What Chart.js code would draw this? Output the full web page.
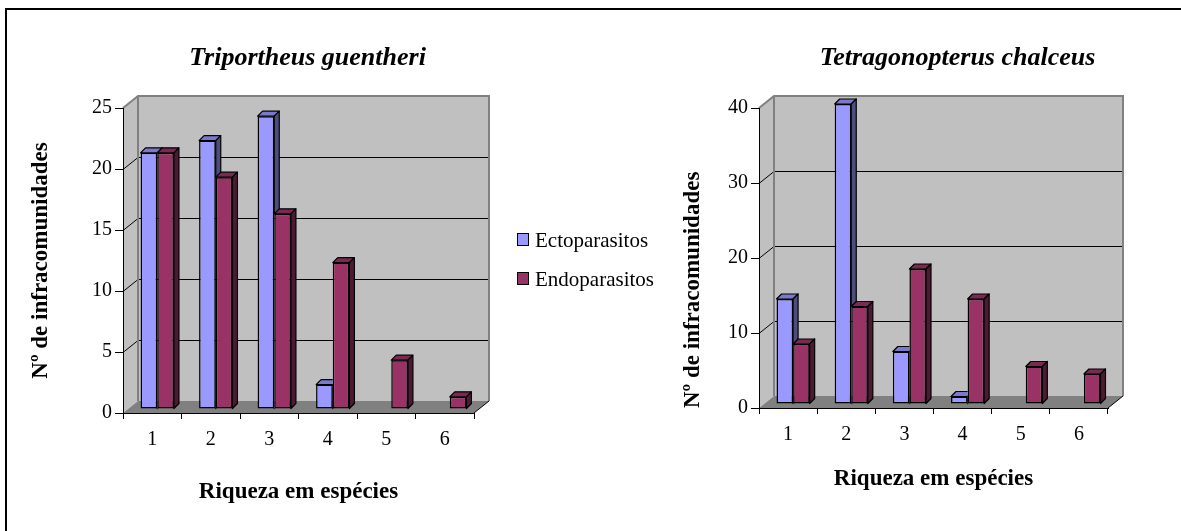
<!DOCTYPE html>
<html>
<head>
<meta charset="utf-8">
<script src="https://cdn.jsdelivr.net/npm/chart.js@4.4.1/dist/chart.umd.min.js"></script>
<style>
html,body{margin:0;padding:0;background:#fff;width:1181px;height:531px;overflow:hidden;position:relative;}
canvas{position:absolute;left:0;top:0;}
#frame{position:absolute;left:5px;top:8px;width:1300px;height:600px;border-left:2px solid #000;border-top:2px solid #000;}
.leg{position:absolute;font-family:"Liberation Serif","Times New Roman",serif;font-size:21px;line-height:24px;color:#000;white-space:nowrap;}
.sw{position:absolute;width:12px;height:13px;box-sizing:border-box;border:1.5px solid #000;}
</style>
</head>
<body>
<div id="frame"></div>
<canvas id="c1" width="1181" height="531"></canvas>
<canvas id="c2" width="1400" height="531"></canvas>
<div id="legend"></div>
<script>
// ---- data ----
const categories = ['1', '2', '3', '4', '5', '6'];
const seriesNames = ['Ectoparasitos', 'Endoparasitos'];
const trioEcto = [21, 22, 24, 2, 0, 0];
const trioEndo = [21, 19, 16, 12, 4, 1];
const tetraEcto = [14, 40, 7, 1, 0, 0];
const tetraEndo = [8, 13, 18, 14, 5, 4];
const trioTicks = [0, 5, 10, 15, 20, 25];
const tetraTicks = [0, 10, 20, 30, 40];
const chartTitles = ['Triportheus guentheri', 'Tetragonopterus chalceus'];
const xTitle = 'Riqueza em espécies';
const yTitle = 'Nº de infracomunidades';

// ---- styles ----
const FONT = '"Liberation Serif","Times New Roman",serif';
const frontColors = ['#9999FF', '#993366'];
const topColors = ['#7A7ACC', '#7A2952'];
const sideColors = ['#4D4D80', '#4D1A33'];

const wall3d = {
  id: 'wall3d',
  beforeDraw(chart, args, o) {
    const ctx = chart.ctx, a = chart.chartArea, ys = chart.scales.y;
    const dx = o.dx, dy = o.dy;
    const L = a.left, R = a.right, T = a.top, B = a.bottom;
    ctx.save();
    ctx.fillStyle = '#C0C0C0';
    ctx.fillRect(L + dx, T + dy, R - L, B - T);
    ctx.beginPath();
    ctx.moveTo(L, B); ctx.lineTo(L, T); ctx.lineTo(L + dx, T + dy); ctx.lineTo(L + dx, B + dy);
    ctx.closePath(); ctx.fill();
    ctx.fillStyle = '#808080';
    ctx.beginPath();
    ctx.moveTo(L, B); ctx.lineTo(R, B); ctx.lineTo(R + dx, B + dy); ctx.lineTo(L + dx, B + dy);
    ctx.closePath(); ctx.fill();
    ctx.strokeStyle = '#000'; ctx.lineWidth = 1;
    ys.ticks.forEach(t => {
      if (t.value <= ys.min || t.value >= ys.max) return;
      const y = Math.round(ys.getPixelForValue(t.value)) + 0.5;
      ctx.beginPath();
      ctx.moveTo(L, y); ctx.lineTo(L + dx, y + dy); ctx.lineTo(R + dx, y + dy);
      ctx.stroke();
    });
    ctx.strokeStyle = '#808080'; ctx.lineWidth = 2;
    ctx.beginPath();
    ctx.moveTo(L, T); ctx.lineTo(L + dx, T + dy); ctx.lineTo(R + dx, T + dy); ctx.lineTo(R + dx, B + dy);
    ctx.stroke();
    ctx.beginPath();
    ctx.moveTo(L + dx, T + dy); ctx.lineTo(L + dx, B + dy);
    ctx.stroke();
    ctx.strokeStyle = '#000'; ctx.lineWidth = 1;
    ctx.beginPath();
    ctx.moveTo(R, B); ctx.lineTo(R + dx, B + dy);
    ctx.stroke();
    ctx.restore();
  },
  beforeDatasetsDraw(chart, args, o) {
    chart.ctx.save();
    chart.ctx.translate(o.bx, o.by);
  },
  afterDatasetsDraw(chart, args, o) {
    const ctx = chart.ctx;
    const m0 = chart.getDatasetMeta(0), m1 = chart.getDatasetMeta(1);
    const d = {dx: o.ddx, dy: o.ddy};
    const faces = (el, top, side) => {
      const l = el.x - el.width / 2, r = el.x + el.width / 2, t = el.y, b = el.base;
      if (b - t < 0.5) return;
      ctx.lineWidth = 1.2; ctx.strokeStyle = '#000'; ctx.lineJoin = 'round';
      ctx.fillStyle = top;
      ctx.beginPath();
      ctx.moveTo(l, t); ctx.lineTo(l + d.dx, t + d.dy); ctx.lineTo(r + d.dx, t + d.dy); ctx.lineTo(r, t);
      ctx.closePath(); ctx.fill(); ctx.stroke();
      ctx.fillStyle = side;
      ctx.beginPath();
      ctx.moveTo(r, t); ctx.lineTo(r + d.dx, t + d.dy); ctx.lineTo(r + d.dx, b + d.dy); ctx.lineTo(r, b);
      ctx.closePath(); ctx.fill(); ctx.stroke();
    };
    ctx.save();
    ctx.beginPath();
    ctx.rect(-200, -200, chart.width + 400, chart.height + 400);
    m1.data.forEach(el => {
      ctx.rect(el.x - el.width / 2, el.y, el.width, el.base - el.y);
    });
    ctx.clip('evenodd');
    m0.data.forEach(el => faces(el, topColors[0], sideColors[0]));
    ctx.restore();
    m1.data.forEach(el => faces(el, topColors[1], sideColors[1]));
    ctx.restore();
  }
};

function makeChart(id, title, ecto, endo, ticks, g) {
  return new Chart(document.getElementById(id), {
    type: 'bar',
    data: {
      labels: categories,
      datasets: [
        {label: seriesNames[0], data: ecto, backgroundColor: frontColors[0], borderColor: '#000', borderWidth: 1.5, borderSkipped: false, clip: false, categoryPercentage: 0.57, barPercentage: 1},
        {label: seriesNames[1], data: endo, backgroundColor: frontColors[1], borderColor: '#000', borderWidth: 1.5, borderSkipped: false, clip: false, categoryPercentage: 0.57, barPercentage: 1}
      ]
    },
    options: {
      responsive: false,
      animation: false,
      events: [],
      layout: {padding: {left: g.padL, right: g.padR, top: 0, bottom: g.padB}},
      plugins: {
        legend: {display: false},
        tooltip: {enabled: false},
        title: {display: true, text: title, color: '#000', fullSize: true,
          font: {family: FONT, size: 26, weight: 'bold', style: 'italic'},
          padding: {top: 42.6, bottom: 34.2}},
        wall3d: {dx: 15, dy: -12, bx: 5, by: -4, ddx: 5, ddy: -5}
      },
      scales: {
        x: {
          ticks: {color: '#000', font: {family: FONT, size: 20}, padding: 9},
          grid: {drawOnChartArea: false, drawTicks: true, tickLength: 6, color: '#000', offset: true},
          border: {display: true, color: '#000', width: 1},
          title: {display: true, text: xTitle, color: '#000', font: {family: FONT, size: 23, weight: 'bold'}, padding: {top: 0, bottom: 0}},
          afterFit(s) { s.height = g.xH; }
        },
        y: {
          min: ticks[0], max: ticks[ticks.length - 1],
          ticks: {stepSize: ticks[1] - ticks[0], color: '#000', font: {family: FONT, size: 20}, padding: 3},
          grid: {drawOnChartArea: false, drawTicks: true, tickLength: 8, color: '#000'},
          border: {display: true, color: '#000', width: 1},
          title: {display: true, text: yTitle, color: '#000', align: g.yAlign, font: {family: FONT, size: 23, weight: 'bold'}, padding: {top: g.yTitlePad, bottom: 0}},
          afterFit(s) { s.width = g.yW; }
        },
        pad: {
          type: 'linear', position: 'right', display: true,
          grid: {display: false}, border: {display: false}, ticks: {display: false},
          afterFit(s) { s.width = g.rb; }
        }
      }
    },
    plugins: [wall3d]
  });
}

makeChart('c1', chartTitles[0], trioEcto, trioEndo, trioTicks,
  {padL: 10, padR: 576, padB: 25, xH: 93, yW: 113, rb: 131, yTitlePad: 17.5, yAlign: 'center'});
makeChart('c2', chartTitles[1], tetraEcto, tetraEndo, tetraTicks,
  {padL: 670, padR: 155, padB: 38, xH: 85, yW: 89, rb: 137, yTitlePad: 9.2, yAlign: 'start'});

// legend (HTML)
const legend = document.getElementById('legend');
seriesNames.forEach((name, i) => {
  const sw = document.createElement('div');
  sw.className = 'sw';
  sw.style.left = '517px';
  sw.style.top = (233 + i * 39.3) + 'px';
  sw.style.background = frontColors[i];
  legend.appendChild(sw);
  const t = document.createElement('div');
  t.className = 'leg';
  t.style.left = '535px';
  t.style.top = (227.6 + i * 39.3) + 'px';
  t.textContent = name;
  legend.appendChild(t);
});
</script>
</body>
</html>
